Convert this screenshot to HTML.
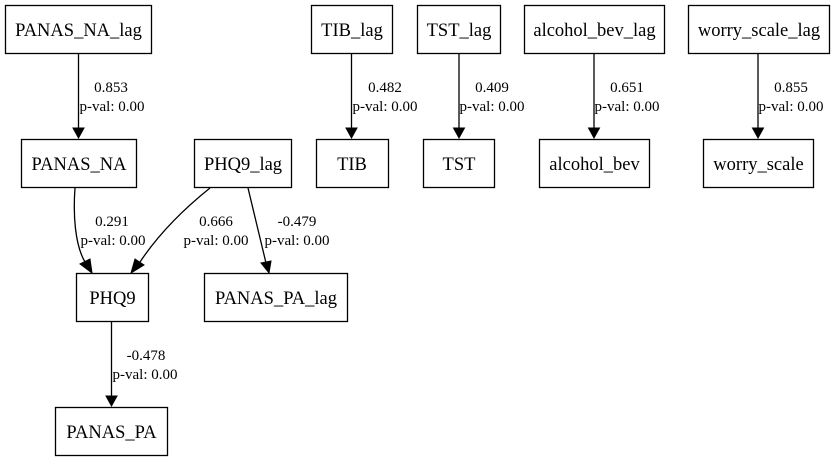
<!DOCTYPE html>
<html><head><meta charset="utf-8"><style>body{margin:0;background:#fff}svg{display:block}</style></head>
<body>
<svg width="834" height="461" viewBox="0 0 834 461" xmlns="http://www.w3.org/2000/svg" font-family="'Liberation Serif',serif" font-size="15">
<rect width="834" height="461" fill="#fff"/>
<g fill="none" stroke="#000" stroke-width="1.3">
<rect x="5.5" y="5.5" width="146" height="48"/>
<rect x="311.5" y="5.5" width="81" height="48"/>
<rect x="417.5" y="5.5" width="83" height="48"/>
<rect x="524.5" y="5.5" width="140" height="48"/>
<rect x="688.5" y="5.5" width="141" height="48"/>
<rect x="21.5" y="139.5" width="115" height="48"/>
<rect x="194.5" y="139.5" width="97" height="48"/>
<rect x="316.5" y="139.5" width="72" height="48"/>
<rect x="423.5" y="139.5" width="71" height="48"/>
<rect x="539.5" y="139.5" width="110" height="48"/>
<rect x="703.5" y="139.5" width="110" height="48"/>
<rect x="76.5" y="273.5" width="72" height="48"/>
<rect x="204.5" y="273.5" width="143" height="48"/>
<rect x="55.5" y="407.5" width="112" height="48"/>
<path d="M78.5 54 V128"/>
<path d="M351.5 54 V128"/>
<path d="M459 54 V128"/>
<path d="M594 54 V128"/>
<path d="M758 54 V128"/>
<path d="M75 188 C73 215 75 245 85 262"/>
<path d="M210 188 C185 208 160 232 140 262"/>
<path d="M248 188 L266 263"/>
<path d="M111.5 322 V396"/>
</g>
<g fill="#000" stroke="#000">
<polygon points="73,128 84,128 78.5,138"/>
<polygon points="346,128 357,128 351.5,138"/>
<polygon points="453.5,128 464.5,128 459,138"/>
<polygon points="588.5,128 599.5,128 594,138"/>
<polygon points="752.5,128 763.5,128 758,138"/>
<polygon points="80,264 90,259 92,273"/>
<polygon points="135,259 144,265 131,273"/>
<polygon points="261,263 271,261 269,273"/>
<polygon points="106,396 117,396 111.5,406"/>
</g>
<g text-anchor="middle" font-size="18.5">
<text x="78.5" y="36">PANAS_NA_lag</text>
<text x="352" y="36">TIB_lag</text>
<text x="459" y="36">TST_lag</text>
<text x="594.5" y="36">alcohol_bev_lag</text>
<text x="759" y="36">worry_scale_lag</text>
<text x="79" y="170">PANAS_NA</text>
<text x="243" y="170">PHQ9_lag</text>
<text x="352" y="170">TIB</text>
<text x="459" y="170">TST</text>
<text x="594.5" y="170">alcohol_bev</text>
<text x="758.5" y="170">worry_scale</text>
<text x="112.5" y="304">PHQ9</text>
<text x="276" y="304">PANAS_PA_lag</text>
<text x="111.5" y="438">PANAS_PA</text>
</g>
<g text-anchor="middle">
<text x="111" y="92">0.853</text><text x="112" y="111">p-val: 0.00</text>
<text x="385" y="92">0.482</text><text x="385" y="111">p-val: 0.00</text>
<text x="492" y="92">0.409</text><text x="492" y="111">p-val: 0.00</text>
<text x="627" y="92">0.651</text><text x="627" y="111">p-val: 0.00</text>
<text x="791" y="92">0.855</text><text x="791" y="111">p-val: 0.00</text>
<text x="112" y="226">0.291</text><text x="113" y="245">p-val: 0.00</text>
<text x="216" y="226">0.666</text><text x="216" y="245">p-val: 0.00</text>
<text x="297" y="226">-0.479</text><text x="297" y="245">p-val: 0.00</text>
<text x="146" y="360">-0.478</text><text x="145" y="379">p-val: 0.00</text>
</g>
</svg>
</body></html>
